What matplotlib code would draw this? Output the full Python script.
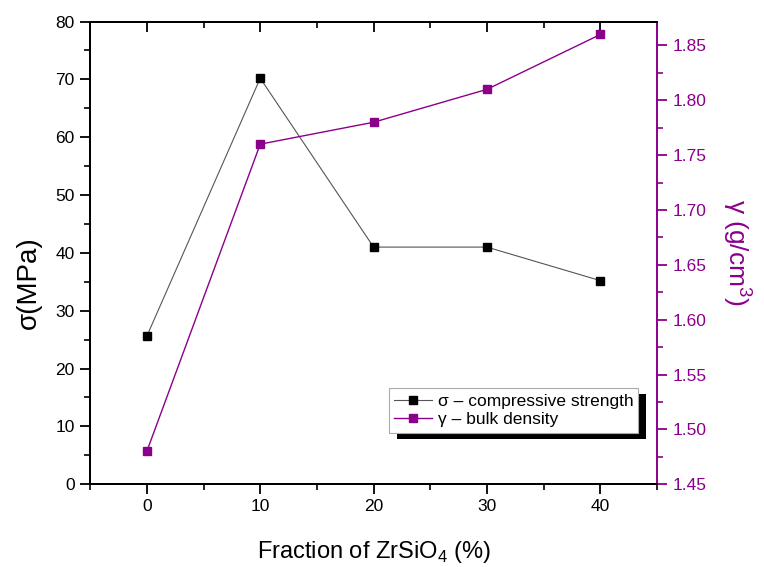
import numpy as np
import matplotlib
matplotlib.use("Agg")
import matplotlib.pyplot as plt
from matplotlib.patches import Rectangle
from matplotlib.ticker import MultipleLocator, FormatStrFormatter

plt.rcParams['font.family'] = ['Liberation Sans', 'DejaVu Sans']
plt.rcParams['mathtext.fontset'] = 'custom'
plt.rcParams['mathtext.rm'] = 'Liberation Sans'

# data
fraction = [0, 10, 20, 30, 40]
strength = [25.6, 70.2, 41.0, 41.0, 35.2]
density = [1.48, 1.76, 1.78, 1.81, 1.86]

purple = '#8B008B'

fig = plt.figure(figsize=(7.64, 5.67), dpi=100)
ax = fig.add_axes([0.118, 0.146, 0.742, 0.816])
ax2 = ax.twinx()

l1, = ax.plot(fraction, strength, '-', color='#555555', lw=0.8,
              marker='s', ms=6, mfc='black', mec='black', label='σ – compressive strength')
l2, = ax2.plot(fraction, density, '-', color=purple, lw=1.0,
               marker='s', ms=6, mfc=purple, mec=purple, label='γ – bulk density')

ax.set_xlim(-5, 45)
ax.set_ylim(0, 80)
ax2.set_ylim(1.45, 1.8718)

ax.xaxis.set_major_locator(MultipleLocator(10))
ax.xaxis.set_minor_locator(MultipleLocator(5))
ax.yaxis.set_major_locator(MultipleLocator(10))
ax.yaxis.set_minor_locator(MultipleLocator(5))
ax2.yaxis.set_major_locator(MultipleLocator(0.05))
ax2.yaxis.set_minor_locator(MultipleLocator(0.025))
ax2.yaxis.set_major_formatter(FormatStrFormatter('%.2f'))

ax.tick_params(axis='both', which='major', direction='out', length=7, width=1.3,
               labelsize=12.5, colors='black', pad=4)
ax.tick_params(axis='both', which='minor', direction='out', length=4, width=1.2)
ax2.tick_params(axis='y', which='major', direction='out', length=7, width=1.3,
                labelsize=12.5, colors=purple, pad=4)
ax2.tick_params(axis='y', which='minor', direction='out', length=4, width=1.2, colors=purple)

# inward ticks on the top edge
top = ax.secondary_xaxis('top')
top.xaxis.set_major_locator(MultipleLocator(10))
top.xaxis.set_minor_locator(MultipleLocator(5))
top.tick_params(which='major', direction='in', length=7, width=1.3, labeltop=False)
top.tick_params(which='minor', direction='in', length=4, width=1.2)
top.spines['top'].set_linewidth(1.4)

for s in ['left', 'bottom', 'top']:
    ax.spines[s].set_linewidth(1.4)
    ax2.spines[s].set_linewidth(1.4)
ax2.spines['right'].set_color(purple)
ax2.spines['right'].set_linewidth(1.4)
ax.spines['right'].set_visible(False)

ax.set_xlabel('Fraction of ZrSiO$_4$ (%)', fontsize=17)
ax.xaxis.set_label_coords(0.5, -0.118)
ax.set_ylabel('σ(MPa)', fontsize=20)
ax.yaxis.set_label_coords(-0.085, 0.435)
ax2.set_ylabel('γ (g/cm$^3$)', fontsize=19, color=purple, rotation=270)
ax2.yaxis.set_label_coords(1.17, 0.5)

leg = ax2.legend(handles=[l1, l2], loc='upper left', bbox_to_anchor=(0.527, 0.207),
                 fontsize=12.5, frameon=True, fancybox=False, framealpha=1,
                 edgecolor='#aaaaaa', handlelength=2.2, handletextpad=0.3,
                 borderpad=0.3, labelspacing=0.2, borderaxespad=0)
leg.get_frame().set_linewidth(0.8)
leg.set_zorder(10)

fig.canvas.draw()
bb = leg.get_window_extent()
shadow = Rectangle((bb.x0 + 8, bb.y0 - 6), bb.width, bb.height, transform=None,
                   facecolor='black', edgecolor='none', zorder=9)
ax2.add_artist(shadow)

fig.savefig('out.png', dpi=100)
